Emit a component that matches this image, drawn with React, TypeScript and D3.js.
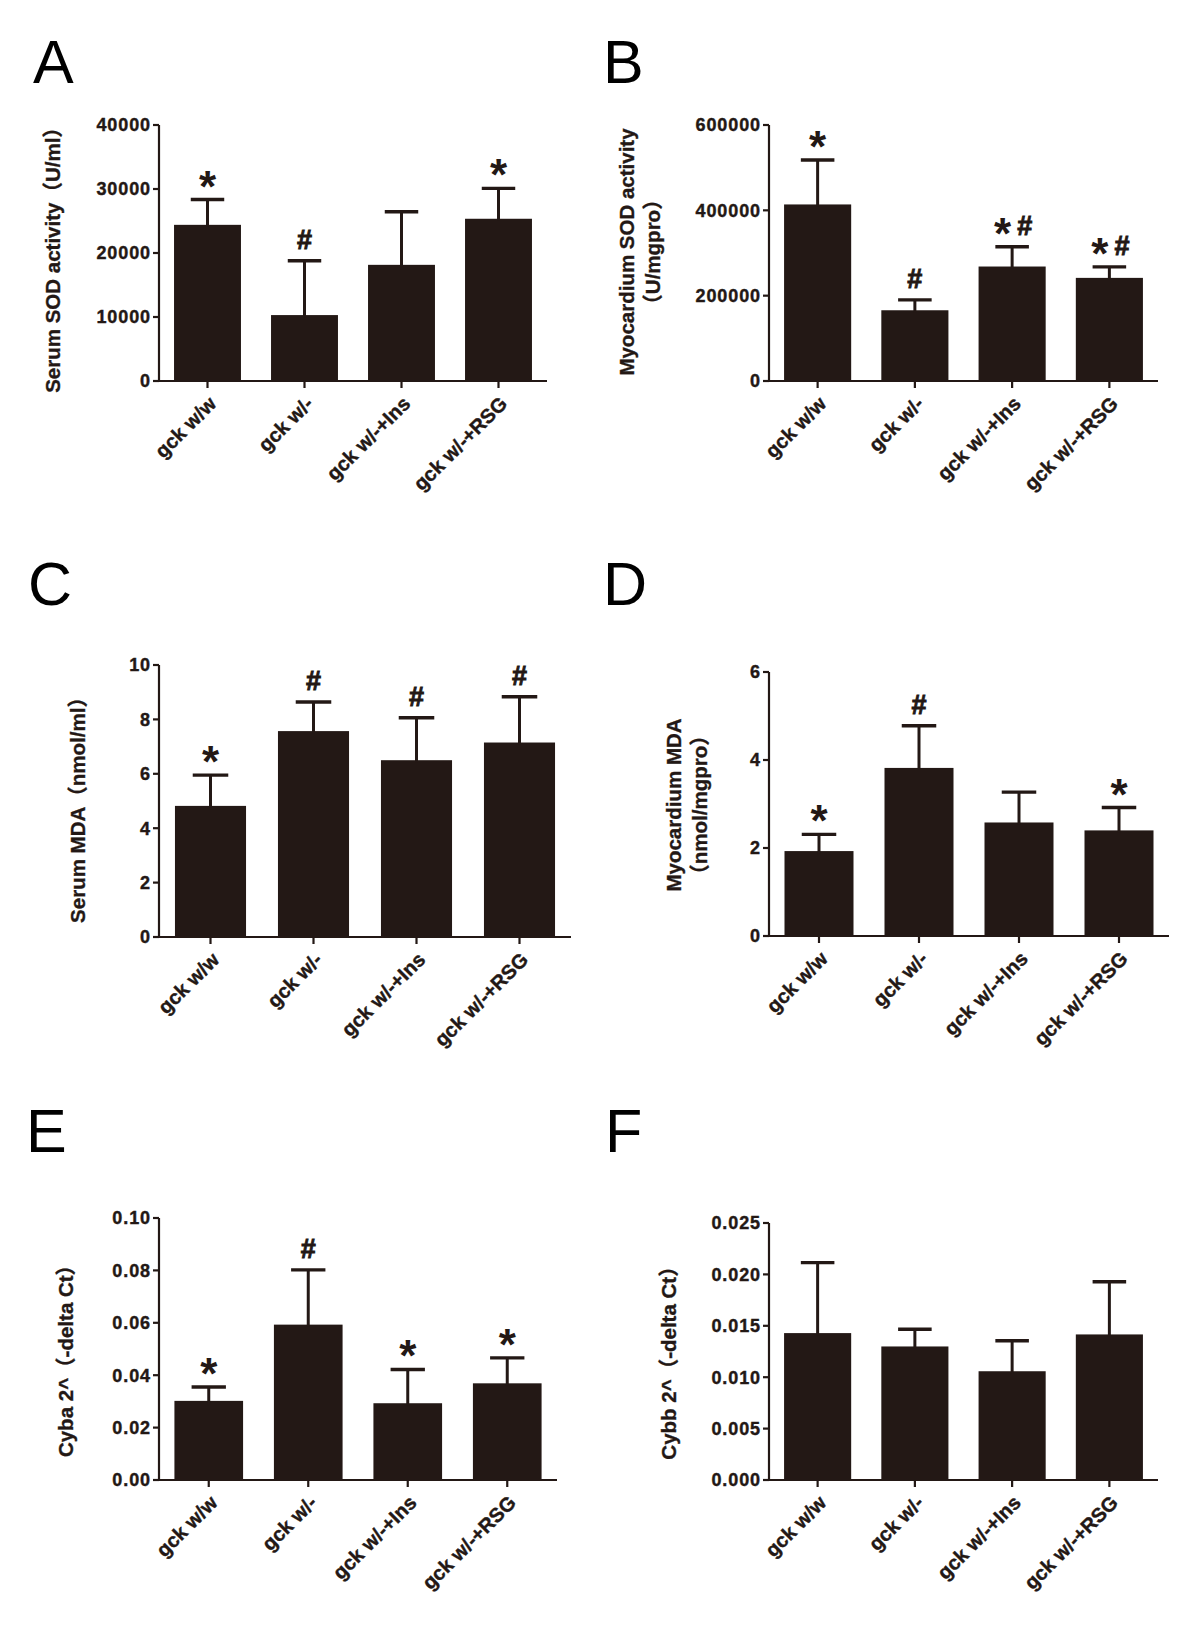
import React from "react";
import * as d3 from "d3";

// ---------- data ----------
const categories = ["gck w/w", "gck w/-", "gck w/-+Ins", "gck w/-+RSG"];

const serumSodMean = [24400, 10300, 18150, 25350];
const serumSodErr = [3950, 8480, 8290, 4740];
const serumSodMarks = ["*", "#", "", "*"];
const serumSodTicks = [0, 10000, 20000, 30000, 40000];

const myoSodMean = [413800, 165800, 268300, 241700];
const myoSodErr = [104100, 24300, 46200, 25800];
const myoSodMarks = ["*", "#", "*#", "*#"];
const myoSodTicks = [0, 200000, 400000, 600000];

const serumMdaMean = [4.82, 7.57, 6.5, 7.15];
const serumMdaErr = [1.13, 1.07, 1.56, 1.68];
const serumMdaMarks = ["*", "#", "#", "#"];
const serumMdaTicks = [0, 2, 4, 6, 8, 10];

const myoMdaMean = [1.93, 3.82, 2.58, 2.4];
const myoMdaErr = [0.38, 0.96, 0.69, 0.52];
const myoMdaMarks = ["*", "#", "", "*"];
const myoMdaTicks = [0, 2, 4, 6];

const cybaMean = [0.0302, 0.0593, 0.0293, 0.0369];
const cybaErr = [0.0053, 0.0209, 0.0129, 0.0097];
const cybaMarks = ["*", "#", "*", "*"];
const cybaTicks = [0, 0.02, 0.04, 0.06, 0.08, 0.1];

const cybbMean = [0.01429, 0.01299, 0.01058, 0.01416];
const cybbErr = [0.00686, 0.00167, 0.00297, 0.00512];
const cybbMarks = ["", "", "", ""];
const cybbTicks = [0, 0.005, 0.01, 0.015, 0.02, 0.025];

// ---------- style ----------
const INK = "#231815";
const FONT = "'Liberation Sans', Arial, 'Noto Sans CJK SC', sans-serif";

type PanelProps = {
  letter: string;
  letterX: number;
  letterY: number;
  x0: number;
  x1: number;
  yTop: number;
  yBottom: number;
  ticks: number[];
  fmt: (v: number) => string;
  means: number[];
  errs: number[];
  marks: string[];
  titleLines: string[];
  titleX: number[];
  titleY: number;
};

function Marker({ cx, capY, mark }: { cx: number; capY: number; mark: string }) {
  if (!mark) return null;
  const starBase = capY + 2;
  const hashBase = capY - 12;
  const starProps = { fontSize: 44, fontWeight: "bold" as const, fill: INK, fontFamily: FONT };
  const hashProps = {
    fontSize: 27,
    fontWeight: "bold" as const,
    fill: INK,
    fontFamily: FONT,
    stroke: INK,
    strokeWidth: 0.9,
  };
  if (mark === "*") {
    return (
      <text x={cx} y={starBase} textAnchor="middle" {...starProps}>
        *
      </text>
    );
  }
  if (mark === "#") {
    return (
      <text x={cx} y={hashBase} textAnchor="middle" {...hashProps}>
        #
      </text>
    );
  }
  return (
    <g>
      <text x={cx - 1} y={starBase} textAnchor="end" {...starProps}>
        *
      </text>
      <text x={cx + 5} y={hashBase} textAnchor="start" {...hashProps}>
        #
      </text>
    </g>
  );
}

function Panel(p: PanelProps) {
  const x = d3
    .scaleBand<string>()
    .domain(categories)
    .range([p.x0, p.x1])
    .paddingInner(0.31)
    .paddingOuter(0.155);
  const yMax = p.ticks[p.ticks.length - 1];
  const y = d3.scaleLinear().domain([0, yMax]).range([p.yBottom, p.yTop]);
  const bw = x.bandwidth();
  const capHalf = bw * 0.25;

  return (
    <g fontFamily={FONT} fill={INK}>
      <text x={p.letterX} y={p.letterY} fontSize={61} fontWeight="normal" fill="#000">
        {p.letter}
      </text>

      {/* bars */}
      {categories.map((c, i) => (
        <rect key={"b" + i} x={x(c)} y={y(p.means[i])} width={bw} height={p.yBottom - y(p.means[i])} fill={INK} />
      ))}

      {/* error bars */}
      {categories.map((c, i) => {
        const cx = (x(c) as number) + bw / 2;
        const top = y(p.means[i] + p.errs[i]);
        return (
          <g key={"e" + i} stroke={INK}>
            <line x1={cx} x2={cx} y1={y(p.means[i]) + 2} y2={top} strokeWidth={3} />
            <line x1={cx - capHalf} x2={cx + capHalf} y1={top} y2={top} strokeWidth={3.4} />
          </g>
        );
      })}

      {/* markers */}
      {categories.map((c, i) => {
        const cx = (x(c) as number) + bw / 2;
        const top = y(p.means[i] + p.errs[i]);
        return <Marker key={"m" + i} cx={cx} capY={top} mark={p.marks[i]} />;
      })}

      {/* y axis */}
      <line x1={p.x0} x2={p.x0} y1={p.yTop} y2={p.yBottom + 1} stroke={INK} strokeWidth={2.2} />
      {p.ticks.map((t, i) => (
        <g key={"yt" + i}>
          <line x1={p.x0 - 6} x2={p.x0} y1={y(t)} y2={y(t)} stroke={INK} strokeWidth={2.2} />
          <text
            x={p.x0 - 8}
            y={y(t)}
            dy="0.36em"
            textAnchor="end"
            fontSize={18}
            fontWeight="bold"
            letterSpacing={0.9}
            stroke={INK}
            strokeWidth={0.4}
          >
            {p.fmt(t)}
          </text>
        </g>
      ))}

      {/* x axis */}
      <line x1={p.x0 - 1} x2={p.x1} y1={p.yBottom} y2={p.yBottom} stroke={INK} strokeWidth={2.2} />
      {categories.map((c, i) => {
        const cx = (x(c) as number) + bw / 2;
        return (
          <g key={"xt" + i}>
            <line x1={cx} x2={cx} y1={p.yBottom} y2={p.yBottom + 7} stroke={INK} strokeWidth={2.2} />
            <text
              transform={`translate(${cx + 10},${p.yBottom + 24}) rotate(-45)`}
              textAnchor="end"
              fontSize={20}
              fontWeight="bold"
              stroke={INK}
              strokeWidth={0.4}
            >
              {c}
            </text>
          </g>
        );
      })}

      {/* y title */}
      {p.titleLines.map((line, i) => (
        <text
          key={"tt" + i}
          transform={`translate(${p.titleX[i]},${p.titleY}) rotate(-90)`}
          textAnchor="middle"
          dominantBaseline="central"
          fontSize={20.5}
          fontWeight="bold"
          stroke={INK}
          strokeWidth={0.35}
        >
          {line}
        </text>
      ))}
    </g>
  );
}

const fmtInt = (v: number) => d3.format("d")(v);
const fmt2 = (v: number) => d3.format(".2f")(v);
const fmt3 = (v: number) => d3.format(".3f")(v);

export default function App() {
  return (
    <svg
      width={1200}
      height={1630}
      viewBox="0 0 1200 1630"
      style={{ position: "absolute", left: 0, top: 0, background: "#fff" }}
    >
      <rect width={1200} height={1630} fill="#fff" />
      <Panel
        letter="A"
        letterX={33}
        letterY={83}
        x0={159}
        x1={547}
        yTop={125}
        yBottom={381}
        ticks={serumSodTicks}
        fmt={fmtInt}
        means={serumSodMean}
        errs={serumSodErr}
        marks={serumSodMarks}
        titleLines={["Serum SOD activity（U/ml）"]}
        titleX={[52]}
        titleY={255}
      />
      <Panel
        letter="B"
        letterX={603}
        letterY={83}
        x0={769}
        x1={1158}
        yTop={125}
        yBottom={381}
        ticks={myoSodTicks}
        fmt={fmtInt}
        means={myoSodMean}
        errs={myoSodErr}
        marks={myoSodMarks}
        titleLines={["Myocardium SOD activity", "（U/mgpro）"]}
        titleX={[626, 652]}
        titleY={252}
      />
      <Panel
        letter="C"
        letterX={28}
        letterY={605}
        x0={159}
        x1={571}
        yTop={665}
        yBottom={937}
        ticks={serumMdaTicks}
        fmt={fmtInt}
        means={serumMdaMean}
        errs={serumMdaErr}
        marks={serumMdaMarks}
        titleLines={["Serum MDA（nmol/ml）"]}
        titleX={[77]}
        titleY={805}
      />
      <Panel
        letter="D"
        letterX={603}
        letterY={605}
        x0={769}
        x1={1169}
        yTop={672}
        yBottom={936}
        ticks={myoMdaTicks}
        fmt={fmtInt}
        means={myoMdaMean}
        errs={myoMdaErr}
        marks={myoMdaMarks}
        titleLines={["Myocardium MDA", "（nmol/mgpro）"]}
        titleX={[673, 699]}
        titleY={805}
      />
      <Panel
        letter="E"
        letterX={26}
        letterY={1152}
        x0={159}
        x1={557}
        yTop={1218}
        yBottom={1480}
        ticks={cybaTicks}
        fmt={fmt2}
        means={cybaMean}
        errs={cybaErr}
        marks={cybaMarks}
        titleLines={["Cyba 2^（-delta Ct）"]}
        titleX={[65]}
        titleY={1356}
      />
      <Panel
        letter="F"
        letterX={605}
        letterY={1152}
        x0={769}
        x1={1158}
        yTop={1223}
        yBottom={1480}
        ticks={cybbTicks}
        fmt={fmt3}
        means={cybbMean}
        errs={cybbErr}
        marks={cybbMarks}
        titleLines={["Cybb 2^（-delta Ct）"]}
        titleX={[668]}
        titleY={1358}
      />
    </svg>
  );
}
